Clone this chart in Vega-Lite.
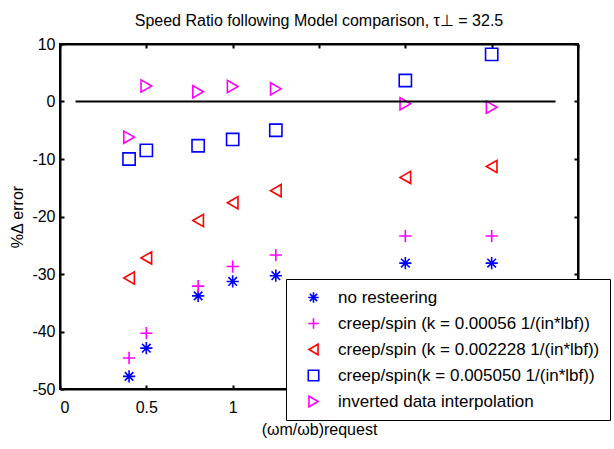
{
  "$schema": "https://vega.github.io/schema/vega-lite/v6.json",
  "width": 518,
  "height": 345,
  "autosize": {"type": "none"},
  "padding": {"left": 60, "top": 44, "right": 36, "bottom": 60},
  "background": "white",
  "title": {
    "text": "Speed Ratio following Model comparison, τ⊥ = 32.5",
    "font": "Liberation Sans",
    "fontSize": 16,
    "fontWeight": "normal",
    "color": "black",
    "offset": 7
  },
  "config": {
    "view": {"stroke": "black", "strokeWidth": 2},
    "axis": {
      "grid": false,
      "domainColor": "black",
      "domainWidth": 2,
      "tickColor": "black",
      "tickWidth": 2,
      "tickSize": -4,
      "labelFont": "Liberation Sans",
      "labelFontSize": 16,
      "labelColor": "black",
      "titleFont": "Liberation Sans",
      "titleFontSize": 16,
      "titleFontWeight": "normal",
      "titleColor": "black"
    }
  },
  "datasets": {
    "pts": [
      {"x": 0.4, "y": -47.8, "series": "no resteering"},
      {"x": 0.5, "y": -42.9, "series": "no resteering"},
      {"x": 0.8, "y": -33.8, "series": "no resteering"},
      {"x": 1.0, "y": -31.3, "series": "no resteering"},
      {"x": 1.25, "y": -30.3, "series": "no resteering"},
      {"x": 2.0, "y": -28.1, "series": "no resteering"},
      {"x": 2.5, "y": -28.1, "series": "no resteering"},
      {"x": 0.4, "y": -44.6, "series": "creep/spin (k = 0.00056 1/(in*lbf))"},
      {"x": 0.5, "y": -40.3, "series": "creep/spin (k = 0.00056 1/(in*lbf))"},
      {"x": 0.8, "y": -32.1, "series": "creep/spin (k = 0.00056 1/(in*lbf))"},
      {"x": 1.0, "y": -28.7, "series": "creep/spin (k = 0.00056 1/(in*lbf))"},
      {"x": 1.25, "y": -26.7, "series": "creep/spin (k = 0.00056 1/(in*lbf))"},
      {"x": 2.0, "y": -23.4, "series": "creep/spin (k = 0.00056 1/(in*lbf))"},
      {"x": 2.5, "y": -23.4, "series": "creep/spin (k = 0.00056 1/(in*lbf))"},
      {"x": 0.4, "y": -30.7, "series": "creep/spin (k = 0.002228 1/(in*lbf))"},
      {"x": 0.5, "y": -27.2, "series": "creep/spin (k = 0.002228 1/(in*lbf))"},
      {"x": 0.8, "y": -20.7, "series": "creep/spin (k = 0.002228 1/(in*lbf))"},
      {"x": 1.0, "y": -17.6, "series": "creep/spin (k = 0.002228 1/(in*lbf))"},
      {"x": 1.25, "y": -15.5, "series": "creep/spin (k = 0.002228 1/(in*lbf))"},
      {"x": 2.0, "y": -13.2, "series": "creep/spin (k = 0.002228 1/(in*lbf))"},
      {"x": 2.5, "y": -11.3, "series": "creep/spin (k = 0.002228 1/(in*lbf))"},
      {"x": 0.4, "y": -10.0, "series": "creep/spin(k = 0.005050 1/(in*lbf))"},
      {"x": 0.5, "y": -8.5, "series": "creep/spin(k = 0.005050 1/(in*lbf))"},
      {"x": 0.8, "y": -7.7, "series": "creep/spin(k = 0.005050 1/(in*lbf))"},
      {"x": 1.0, "y": -6.6, "series": "creep/spin(k = 0.005050 1/(in*lbf))"},
      {"x": 1.25, "y": -5.0, "series": "creep/spin(k = 0.005050 1/(in*lbf))"},
      {"x": 2.0, "y": 3.65, "series": "creep/spin(k = 0.005050 1/(in*lbf))"},
      {"x": 2.5, "y": 8.2, "series": "creep/spin(k = 0.005050 1/(in*lbf))"},
      {"x": 0.4, "y": -6.2, "series": "inverted data interpolation"},
      {"x": 0.5, "y": 2.7, "series": "inverted data interpolation"},
      {"x": 0.8, "y": 1.7, "series": "inverted data interpolation"},
      {"x": 1.0, "y": 2.6, "series": "inverted data interpolation"},
      {"x": 1.25, "y": 2.2, "series": "inverted data interpolation"},
      {"x": 2.0, "y": -0.4, "series": "inverted data interpolation"},
      {"x": 2.5, "y": -1.0, "series": "inverted data interpolation"}
    ],
    "zero": [{"x": 0.09, "x2": 2.87, "y": 0}]
  },
  "layer": [
    {
      "data": {"name": "pts"},
      "mark": {"type": "point", "filled": false, "strokeWidth": 1.6, "opacity": 1},
      "encoding": {
        "x": {"field": "x", "type": "quantitative", "scale": {"domain": [0, 3], "nice": false, "zero": false},
              "axis": {"orient": "bottom", "title": "(ωm/ωb)request", "values": [0, 0.5, 1, 1.5, 2, 2.5, 3],
                       "labelExpr": "toString(datum.value)", "labelPadding": 14, "titlePadding": 6}},
        "y": {"field": "y", "type": "quantitative", "scale": {"domain": [-50, 10], "nice": false, "zero": false},
              "axis": {"orient": "left", "title": "%Δ error", "values": [-50, -40, -30, -20, -10, 0, 10],
                       "labelExpr": "toString(datum.value)", "labelPadding": 9, "titlePadding": 6}},
        "color": {
          "field": "series", "type": "nominal",
          "scale": {
            "domain": ["no resteering", "creep/spin (k = 0.00056 1/(in*lbf))", "creep/spin (k = 0.002228 1/(in*lbf))", "creep/spin(k = 0.005050 1/(in*lbf))", "inverted data interpolation"],
            "range": ["#0000ff", "#ff00ff", "#ff0000", "#0000ff", "#ff00ff"]
          },
          "legend": {
            "title": null,
            "orient": "none",
            "legendX": 226,
            "legendY": 235,
            "direction": "vertical",
            "fillColor": "white",
            "strokeColor": "black",
            "padding": 10,
            "rowPadding": 8,
            "symbolSize": 110,
            "symbolStrokeWidth": 1.6,
            "symbolOffset": 9,
            "labelOffset": 16,
            "labelFont": "Liberation Sans",
            "labelFontSize": 17,
            "labelColor": "black",
            "labelLimit": 500,
            "encode": {"legend": {"update": {"strokeWidth": {"value": 2}}}}
          }
        },
        "shape": {
          "field": "series", "type": "nominal",
          "scale": {
            "domain": ["no resteering", "creep/spin (k = 0.00056 1/(in*lbf))", "creep/spin (k = 0.002228 1/(in*lbf))", "creep/spin(k = 0.005050 1/(in*lbf))", "inverted data interpolation"],
            "range": ["M-1,0L1,0M0,-1L0,1M-0.7,-0.7L0.7,0.7M-0.7,0.7L0.7,-0.7", "M-1,0L1,0M0,-1L0,1", "triangle-left", "square", "triangle-right"]
          },
          "legend": {
            "title": null,
            "orient": "none",
            "legendX": 226,
            "legendY": 235,
            "direction": "vertical",
            "fillColor": "white",
            "strokeColor": "black",
            "padding": 10,
            "rowPadding": 8,
            "symbolSize": 110,
            "symbolStrokeWidth": 1.6,
            "symbolOffset": 9,
            "labelOffset": 16,
            "labelFont": "Liberation Sans",
            "labelFontSize": 17,
            "labelColor": "black",
            "labelLimit": 500,
            "encode": {"legend": {"update": {"strokeWidth": {"value": 2}}}}
          }
        },
        "size": {"value": 150}
      }
    },
    {
      "data": {"name": "zero"},
      "mark": {"type": "rule", "color": "black", "strokeWidth": 2},
      "encoding": {
        "x": {"field": "x", "type": "quantitative", "scale": {"domain": [0, 3], "nice": false, "zero": false},
              "axis": {"orient": "top", "labels": false, "title": null, "values": [0, 0.5, 1, 1.5, 2, 2.5, 3]}},
        "x2": {"field": "x2"},
        "y": {"field": "y", "type": "quantitative", "scale": {"domain": [-50, 10], "nice": false, "zero": false},
              "axis": {"orient": "right", "labels": false, "title": null, "values": [-50, -40, -30, -20, -10, 0, 10]}}
      }
    }
  ],
  "resolve": {
    "scale": {"x": "independent", "y": "independent"},
    "axis": {"x": "independent", "y": "independent"}
  }
}
